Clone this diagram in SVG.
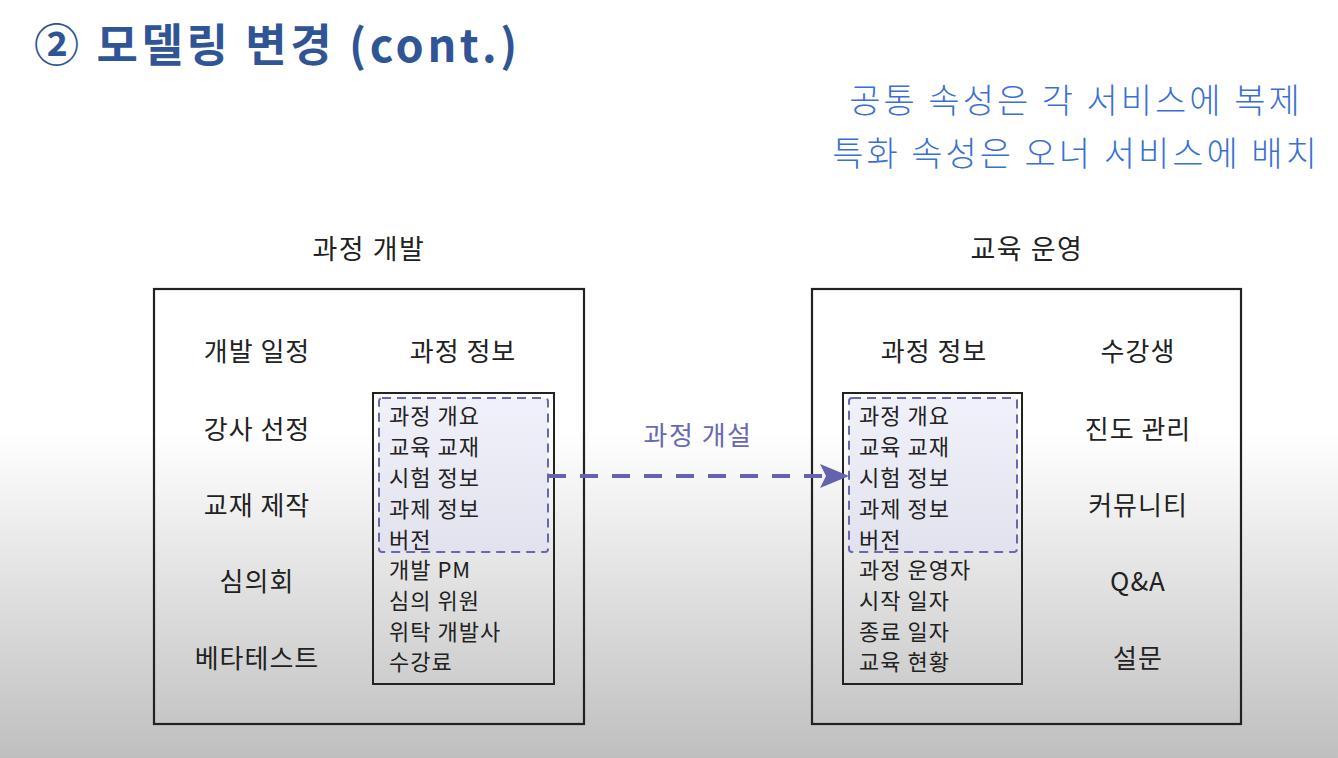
<svg xmlns="http://www.w3.org/2000/svg" width="1338" height="758" viewBox="0 0 1338 758">
<defs>
<linearGradient id="bg" x1="0" y1="0" x2="0" y2="1">
<stop offset="0" stop-color="#ffffff"/>
<stop offset="0.57" stop-color="#ffffff"/>
<stop offset="1" stop-color="#bfbfbf"/>
</linearGradient>
<linearGradient id="lav" x1="0" y1="0" x2="0" y2="1">
<stop offset="0" stop-color="#f1f1fa"/>
<stop offset="1" stop-color="#e2e2ee"/>
</linearGradient>
<style>
text{font-family:"Noto Sans CJK KR","Noto Sans",sans-serif;fill:#222}
.title{font-size:45px;font-weight:bold;fill:#2f5597;letter-spacing:3.6px}
.note{font-size:34px;fill:#3a6fd6;letter-spacing:3px;font-weight:300}
.hdr{font-size:27px;letter-spacing:1.5px}
.it{font-size:26px;letter-spacing:1px}
.li{font-size:22px;letter-spacing:1px}
.big{fill:none;stroke:#222;stroke-width:2.2}
.inner{fill:none;stroke:#222;stroke-width:2}
.dash{fill:url(#lav);stroke:#6868b0;stroke-width:2;stroke-dasharray:9 6}
.lbl{font-size:26px;fill:#6868b4;letter-spacing:1.5px}
</style>
</defs>
<rect width="1338" height="758" fill="url(#bg)"/>
<text class="title" x="34" y="62">② 모델링 변경 (cont.)</text>
<g id="note">
<text class="note" x="1076" y="113" text-anchor="middle">공통 속성은 각 서비스에 복제</text>
<text class="note" x="1076" y="166" text-anchor="middle">특화 속성은 오너 서비스에 배치</text>
</g>
<g id="dev">
<text class="hdr" x="369" y="259" text-anchor="middle">과정 개발</text>
<rect class="big" x="154" y="289" width="430" height="435"/>
<g text-anchor="middle">
<text class="it" x="257" y="361">개발 일정</text>
<text class="it" x="257" y="439">강사 선정</text>
<text class="it" x="257" y="515">교재 제작</text>
<text class="it" x="257" y="591">심의회</text>
<text class="it" x="257" y="668">베타테스트</text>
<text class="it" x="463" y="361">과정 정보</text>
</g>
</g>
<g id="dev-info">
<rect class="inner" x="373" y="393" width="181" height="291"/>
<rect class="dash" x="379" y="398" width="169" height="154" rx="3"/>
<text class="li" x="389" y="424">과정 개요</text>
<text class="li" x="389" y="455">교육 교재</text>
<text class="li" x="389" y="486">시험 정보</text>
<text class="li" x="389" y="517">과제 정보</text>
<text class="li" x="389" y="548">버전</text>
<text class="li" x="389" y="578">개발 PM</text>
<text class="li" x="389" y="609">심의 위원</text>
<text class="li" x="389" y="640">위탁 개발사</text>
<text class="li" x="389" y="670">수강료</text>
</g>
<g id="ops">
<text class="hdr" x="1027" y="259" text-anchor="middle">교육 운영</text>
<rect class="big" x="812" y="289" width="429" height="435"/>
<g text-anchor="middle">
<text class="it" x="934" y="361">과정 정보</text>
<text class="it" x="1138" y="361">수강생</text>
<text class="it" x="1138" y="439">진도 관리</text>
<text class="it" x="1138" y="515">커뮤니티</text>
<text class="it" x="1138" y="591">Q&amp;A</text>
<text class="it" x="1138" y="668">설문</text>
</g>
</g>
<g id="ops-info">
<rect class="inner" x="843" y="393" width="179" height="291"/>
<rect class="dash" x="849" y="398" width="168" height="154" rx="3"/>
<text class="li" x="859" y="424">과정 개요</text>
<text class="li" x="859" y="455">교육 교재</text>
<text class="li" x="859" y="486">시험 정보</text>
<text class="li" x="859" y="517">과제 정보</text>
<text class="li" x="859" y="548">버전</text>
<text class="li" x="859" y="578">과정 운영자</text>
<text class="li" x="859" y="609">시작 일자</text>
<text class="li" x="859" y="640">종료 일자</text>
<text class="li" x="859" y="670">교육 현황</text>
</g>
<g id="connectors">
<line x1="548" y1="476" x2="835" y2="476" stroke="#6363b0" stroke-width="4" stroke-dasharray="18 14"/>
<path d="M820,464 L849,476 L820,488 L826,476 Z" fill="#6363b0"/>
<text class="lbl" x="698" y="445" text-anchor="middle">과정 개설</text>
</g>
</svg>
